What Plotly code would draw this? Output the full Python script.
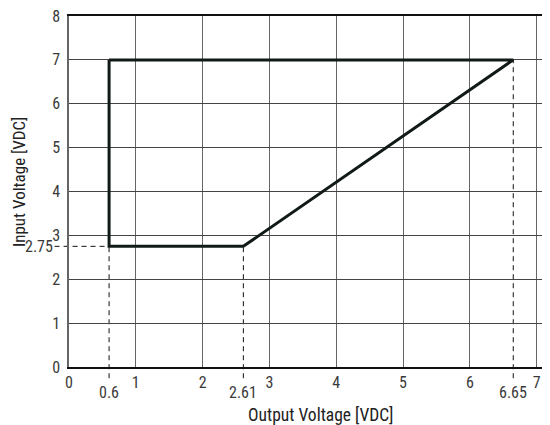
import plotly.graph_objects as go

# Operating area polygon (Output voltage, Input voltage)
area_x = [0.6, 0.6, 2.61, 6.65, 0.6]
area_y = [7.0, 2.75, 2.75, 7.0, 7.0]

# Marked values
marked_x = [0.6, 2.61, 6.65]
marked_x_top = [2.75, 2.75, 7.0]
marked_y = [2.75]
marked_y_right = [0.6]

x_ticks = [0, 1, 2, 3, 4, 5, 6, 7]
y_ticks = [0, 1, 2, 3, 4, 5, 6, 7, 8]
x_range = [0, 7.2]
y_range = [0, 8]
x_title = "Output Voltage [VDC]"
y_title = "Input Voltage [VDC]"

FONT = "Liberation Sans Narrow, Roboto Condensed, Arial Narrow, Liberation Sans, sans-serif"
DASH = "5px,4px"
TXT = "#3a3a3a"

fig = go.Figure()
fig.add_trace(go.Scatter(x=area_x, y=area_y, mode="lines",
                         line=dict(color="#111a17", width=3), hoverinfo="skip",
                         showlegend=False))

shapes = []
for xv, yv in zip(marked_x, marked_x_top):
    shapes.append(dict(type="line", xref="x", yref="paper", x0=xv, x1=xv,
                       y0=-0.032, y1=yv / y_range[1],
                       line=dict(color="#111", width=1, dash=DASH), layer="below"))
for yv, xv in zip(marked_y, marked_y_right):
    shapes.append(dict(type="line", xref="paper", yref="y", x0=-0.03,
                       x1=xv / x_range[1], y0=yv, y1=yv,
                       line=dict(color="#111", width=1, dash=DASH), layer="below"))

annotations = []
for xv in marked_x:
    annotations.append(dict(x=xv, y=0, xref="x", yref="paper", text=f"{xv:g}",
                            showarrow=False, yanchor="top", yshift=-14,
                            font=dict(family=FONT, size=16, color=TXT)))
for yv in marked_y:
    annotations.append(dict(x=0, y=yv, xref="paper", yref="y", text=f"{yv:g}",
                            showarrow=False, xanchor="right", xshift=-14,
                            font=dict(family=FONT, size=16, color=TXT)))
# axis titles
annotations.append(dict(x=0.522, y=0, xref="paper", yref="paper", text=x_title,
                        showarrow=False, xanchor="center", yanchor="middle",
                        yshift=-48, font=dict(family=FONT, size=17.5, color="#222")))
annotations.append(dict(x=0, y=0.527, xref="paper", yref="paper", text=y_title,
                        showarrow=False, xanchor="center", yanchor="middle",
                        xshift=-50, textangle=-90,
                        font=dict(family=FONT, size=17, color="#222")))

fig.update_layout(
    width=542, height=417,
    margin=dict(l=61, r=0, t=8, b=58, autoexpand=False),
    paper_bgcolor="white", plot_bgcolor="white",
    font=dict(family=FONT, size=16, color=TXT),
    shapes=shapes, annotations=annotations,
    xaxis=dict(range=x_range, tickvals=x_ticks, showgrid=True, gridcolor="#666",
               gridwidth=1, showline=True, mirror=True, linecolor="#111",
               linewidth=1.5, zeroline=False, ticks="", ticklabelstandoff=0,
               ticklabeloverflow="allow"),
    yaxis=dict(range=y_range, tickvals=y_ticks, showgrid=True, gridcolor="#444",
               gridwidth=1, showline=True, linecolor="#666", linewidth=1.5,
               zeroline=False, ticks="", ticklabelstandoff=4,
               ticklabeloverflow="allow"),
)

fig.write_html("out.html")
